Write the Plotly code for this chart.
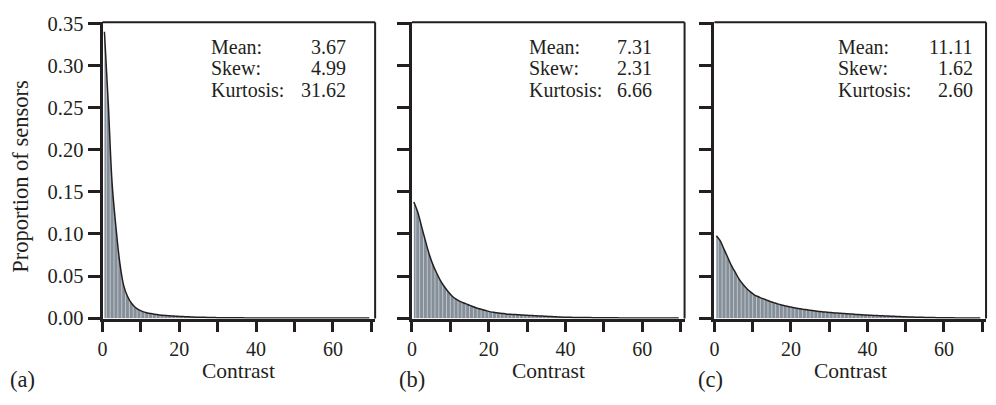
import plotly.graph_objects as go

# ---------------- data ----------------
contrast = [0.5, 1.5, 2.5, 3.5, 4.5, 5.5, 6.5, 7.5, 8.5, 9.5,
            10.5, 11.5, 12.5, 13.5, 14.5, 15.5, 16.5, 17.5, 18.5, 19.5,
            20.5, 21.5, 22.5, 23.5, 24.5, 25.5, 26.5, 27.5, 28.5, 29.5,
            30.5, 31.5, 32.5, 33.5, 34.5, 35.5, 36.5, 37.5, 38.5, 39.5,
            40.5, 41.5, 42.5, 43.5, 44.5, 45.5, 46.5, 47.5, 48.5, 49.5,
            50.5, 51.5, 52.5, 53.5, 54.5, 55.5, 56.5, 57.5, 58.5, 59.5,
            60.5, 61.5, 62.5, 63.5, 64.5, 65.5, 66.5, 67.5, 68.5, 69.5]

bin_edges = [1, 2, 3, 4, 5, 6, 7, 8, 9, 10, 11, 12, 13, 14, 15, 16, 17, 18, 19, 20,
             21, 22, 23, 24, 25, 26, 27, 28, 29, 30, 31, 32, 33, 34, 35, 36, 37, 38, 39, 40,
             41, 42, 43, 44, 45, 46, 47, 48, 49, 50, 51, 52, 53, 54, 55, 56, 57, 58, 59, 60,
             61, 62, 63, 64, 65, 66, 67, 68, 69]

prop_a = [0.340, 0.255, 0.160, 0.108, 0.066, 0.039, 0.026, 0.018, 0.013, 0.0098,
          0.0078, 0.0065, 0.0055, 0.0047, 0.0040, 0.0035, 0.0031, 0.0028, 0.0025, 0.0022,
          0.0020, 0.0018, 0.0016, 0.0014, 0.0012, 0.0011, 0.0010, 0.0009, 0.0008, 0.0007,
          0.0006, 0.0006, 0.0005, 0.0005, 0.0004, 0.0004, 0.0004, 0.0003, 0.0003, 0.0003,
          0.0003, 0.0003, 0.0002, 0.0002, 0.0002, 0.0002, 0.0002, 0.0002, 0.0002, 0.0001,
          0.0001, 0.0001, 0.0001, 0.0001, 0.0001, 0.0001, 0.0001, 0.0001, 0.0001, 0.0001,
          0.0001, 0.0001, 0.0001, 0.0001, 0.0001, 0.0001, 0.0001, 0.0001, 0.0001, 0.0001]

prop_b = [0.138, 0.126, 0.109, 0.092, 0.076, 0.063, 0.053, 0.044, 0.037, 0.031,
          0.026, 0.0225, 0.0200, 0.0180, 0.0163, 0.0145, 0.0127, 0.0113, 0.0100, 0.0087,
          0.0075, 0.0068, 0.0062, 0.0057, 0.0051, 0.0047, 0.0044, 0.0041, 0.0038, 0.0036,
          0.0033, 0.0031, 0.0029, 0.0026, 0.0024, 0.0021, 0.0019, 0.0017, 0.0014, 0.0012,
          0.0011, 0.0010, 0.0009, 0.0009, 0.0008, 0.0007, 0.0007, 0.0006, 0.0006, 0.0005,
          0.0005, 0.0004, 0.0004, 0.0004, 0.0003, 0.0003, 0.0003, 0.0002, 0.0002, 0.0002,
          0.0002, 0.0002, 0.0001, 0.0001, 0.0001, 0.0001, 0.0001, 0.0001, 0.0001, 0.0001]

prop_c = [0.098, 0.092, 0.082, 0.072, 0.062, 0.054, 0.046, 0.040, 0.035, 0.031,
          0.0275, 0.0255, 0.0235, 0.0218, 0.0200, 0.0185, 0.0170, 0.0157, 0.0146, 0.0136,
          0.0127, 0.0119, 0.0111, 0.0104, 0.0097, 0.0091, 0.0085, 0.0079, 0.0075, 0.0071,
          0.0067, 0.0063, 0.0060, 0.0057, 0.0054, 0.0051, 0.0047, 0.0043, 0.0040, 0.0037,
          0.0035, 0.0033, 0.0031, 0.0029, 0.0027, 0.0025, 0.0023, 0.0021, 0.0019, 0.0017,
          0.0015, 0.0014, 0.0012, 0.0011, 0.0010, 0.0009, 0.0008, 0.0007, 0.0006, 0.0005,
          0.0005, 0.0004, 0.0004, 0.0003, 0.0003, 0.0003, 0.0002, 0.0002, 0.0002, 0.0002]

panel_labels = ["(a)", "(b)", "(c)"]
stat_names = ["Mean:", "Skew:", "Kurtosis:"]
stats_a = ["3.67", "4.99", "31.62"]
stats_b = ["7.31", "2.31", "6.66"]
stats_c = ["11.11", "1.62", "2.60"]

y_ticks = [0.00, 0.05, 0.10, 0.15, 0.20, 0.25, 0.30, 0.35]
x_ticks = [0, 10, 20, 30, 40, 50, 60, 70]
x_ticktext = ["0", "", "20", "", "40", "", "60", ""]

# ---------------- styling ----------------
W, H = 996, 405
FONT = "Liberation Serif"
INK = "#231f20"
FILL = "#858f99"
TOP = 0.36

def px_x(p):
    return p / W

def px_y(p):
    return 1 - p / H

x_domains = [(px_x(98), px_x(372)), (px_x(409), px_x(683)), (px_x(713), px_x(986))]
y_domain = (px_y(325.5), px_y(13))

fig = go.Figure()

series = [prop_a, prop_b, prop_c]
for i, vals in enumerate(series):
    xa = "x" if i == 0 else f"x{i+1}"
    ya = "y" if i == 0 else f"y{i+1}"
    # grey area under curve
    fig.add_trace(go.Scatter(x=contrast, y=vals, mode="lines", line=dict(width=0, shape="spline"),
                             fill="tozeroy", fillcolor=FILL, xaxis=xa, yaxis=ya,
                             hoverinfo="skip", showlegend=False))
    # white bin separators
    sx, sy = [], []
    for e in bin_edges:
        sx += [e, e, None]
        sy += [0, TOP, None]
    fig.add_trace(go.Scatter(x=sx, y=sy, mode="lines",
                             line=dict(width=0.8, color="rgba(255,255,255,0.6)"),
                             xaxis=xa, yaxis=ya, hoverinfo="skip", showlegend=False))
    # white mask above curve
    fig.add_trace(go.Scatter(x=contrast, y=vals, mode="lines", line=dict(width=0, shape="spline"),
                             xaxis=xa, yaxis=ya, hoverinfo="skip", showlegend=False))
    fig.add_trace(go.Scatter(x=contrast, y=[TOP] * len(contrast), mode="lines",
                             line=dict(width=0), fill="tonexty", fillcolor="white",
                             xaxis=xa, yaxis=ya, hoverinfo="skip", showlegend=False))
    # curve
    fig.add_trace(go.Scatter(x=contrast, y=vals, mode="lines",
                             line=dict(width=1.5, color=INK, shape="spline"),
                             xaxis=xa, yaxis=ya, hoverinfo="skip", showlegend=False))

layout = dict(
    width=W, height=H,
    margin=dict(l=0, r=0, t=0, b=0),
    paper_bgcolor="white", plot_bgcolor="white",
    showlegend=False,
    font=dict(family=FONT, size=20, color=INK),
)

for i in range(3):
    xk = "xaxis" if i == 0 else f"xaxis{i+1}"
    yk = "yaxis" if i == 0 else f"yaxis{i+1}"
    ya = "y" if i == 0 else f"y{i+1}"
    xa = "x" if i == 0 else f"x{i+1}"
    layout[xk] = dict(domain=list(x_domains[i]), anchor=ya, range=[0, 71],
                      showgrid=False, zeroline=False, showline=True, linewidth=3, linecolor=INK,
                      ticks="outside", ticklen=10, tickwidth=3, tickcolor=INK,
                      tickvals=x_ticks, ticktext=x_ticktext,
                      tickfont=dict(family=FONT, size=20, color=INK))
    layout[yk] = dict(domain=list(y_domain), anchor=xa, range=[-0.0005, 0.3512],
                      showgrid=False, zeroline=False, showline=True, linewidth=3, linecolor=INK,
                      ticks="outside", ticklen=12, tickwidth=3, tickcolor=INK,
                      tickvals=y_ticks, tickformat=".2f", showticklabels=(i == 0),
                      tickfont=dict(family=FONT, size=20.5, color=INK))

fig.update_layout(**layout)

# top and right frame lines
for i in range(3):
    xr = "x domain" if i == 0 else f"x{i+1} domain"
    yr = "y domain" if i == 0 else f"y{i+1} domain"
    fig.add_shape(type="line", xref=xr, yref=yr, x0=0, x1=1, y0=1, y1=1,
                  line=dict(color=INK, width=2), layer="above")
    fig.add_shape(type="line", xref=xr, yref=yr, x0=1, x1=1, y0=0, y1=1,
                  line=dict(color=INK, width=2), layer="above")

# stats text
stats = [stats_a, stats_b, stats_c]
label_left = [206, 526, 836]
value_right = [344, 651, 974]
value_left_b = 614
rows_y = [39, 61.5, 84]
for i in range(3):
    for r in range(3):
        fig.add_annotation(x=px_x(label_left[i]), y=px_y(rows_y[r]), xref="paper", yref="paper",
                           text=stat_names[r], showarrow=False, xanchor="left", yanchor="middle",
                           borderpad=0, font=dict(family=FONT, size=20, color=INK))
        if i == 1:
            fig.add_annotation(x=px_x(value_left_b), y=px_y(rows_y[r]), xref="paper", yref="paper",
                               text=stats[i][r], showarrow=False, xanchor="left", yanchor="middle",
                               borderpad=0, font=dict(family=FONT, size=20, color=INK))
        else:
            fig.add_annotation(x=px_x(value_right[i]), y=px_y(rows_y[r]), xref="paper", yref="paper",
                               text=stats[i][r], showarrow=False, xanchor="right", yanchor="middle",
                               borderpad=0, font=dict(family=FONT, size=20, color=INK))

# x titles and panel labels
for i in range(3):
    cx = (x_domains[i][0] + x_domains[i][1]) / 2
    fig.add_annotation(x=cx, y=px_y(381), xref="paper", yref="paper", text="Contrast",
                       showarrow=False, xanchor="center", yanchor="middle", borderpad=0,
                       font=dict(family=FONT, size=21.5, color=INK))
panel_left = [4, 395, 695]
for i in range(3):
    fig.add_annotation(x=px_x(panel_left[i]), y=px_y(390), xref="paper", yref="paper",
                       text=panel_labels[i], showarrow=False, xanchor="left", yanchor="middle",
                       borderpad=0, font=dict(family=FONT, size=22.5, color=INK))

# y title
fig.add_annotation(x=px_x(16), y=px_y(175), xref="paper", yref="paper",
                   text="Proportion of sensors", textangle=-90, showarrow=False,
                   xanchor="center", yanchor="middle",
                   font=dict(family=FONT, size=22.5, color=INK))

fig.write_html("out.html")
